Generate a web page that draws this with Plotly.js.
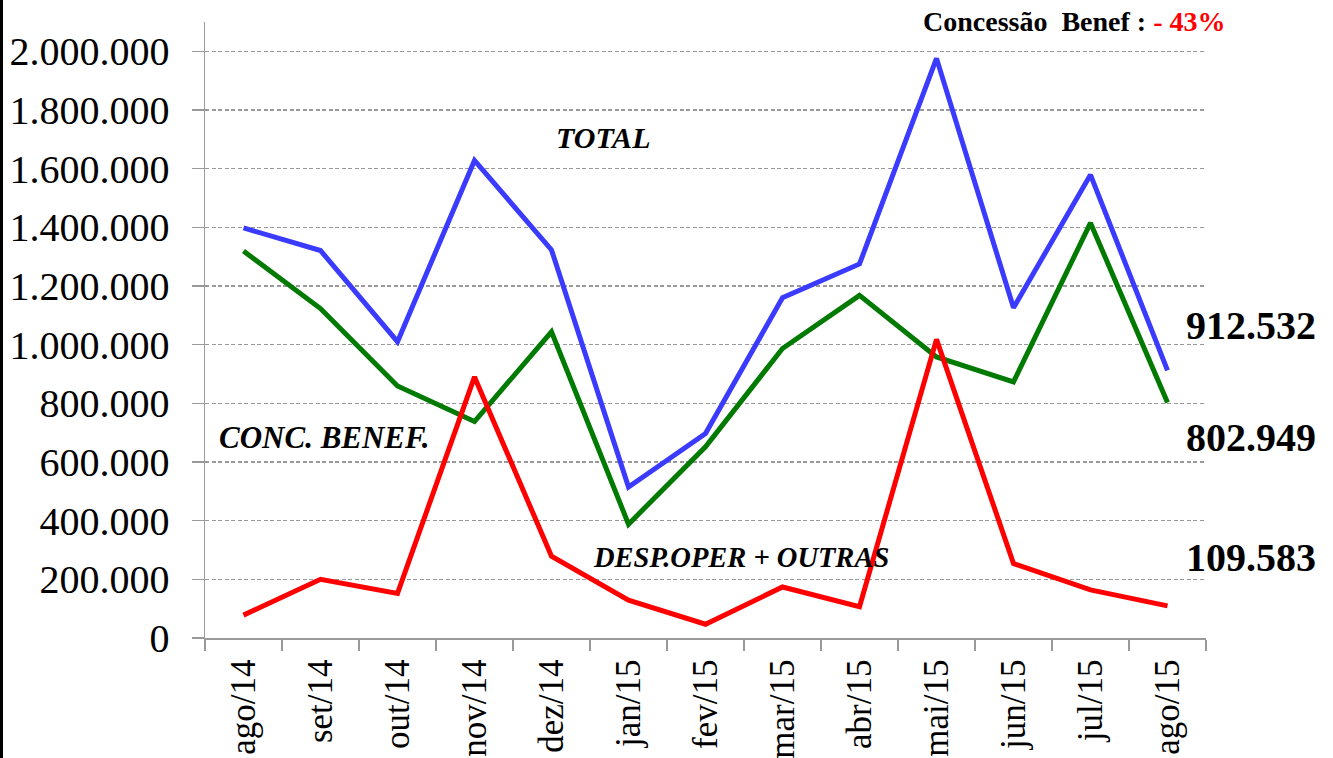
<!DOCTYPE html>
<html>
<head>
<meta charset="utf-8">
<script src="https://cdn.plot.ly/plotly-3.0.1.min.js"></script>
<style>
  html, body { margin: 0; padding: 0; background: #ffffff; }
  #chart { width: 1333px; height: 758px; }
</style>
</head>
<body>
<div id="chart"></div>
<script>
const months = ["ago/14","set/14","out/14","nov/14","dez/14","jan/15","fev/15","mar/15","abr/15","mai/15","jun/15","jul/15","ago/15"];
const total = [1398000, 1321000, 1010000, 1628000, 1323000, 515000, 697000, 1160000, 1275000, 1976000, 1126000, 1579000, 912532];
const concBenef = [1319000, 1123000, 859000, 738000, 1044000, 388000, 652000, 987000, 1168000, 958000, 873000, 1415000, 802949];
const despOper = [78000, 200000, 152000, 890000, 279000, 129000, 47000, 174000, 107000, 1018000, 254000, 164000, 109583];
const yTicks = [0, 200000, 400000, 600000, 800000, 1000000, 1200000, 1400000, 1600000, 1800000, 2000000];

const FONT = "'Liberation Serif', 'Times New Roman', serif";

function fmt(v) {
  return String(Math.round(v)).replace(/\B(?=(\d{3})+(?!\d))/g, ".");
}

const traces = [
  { x: months, y: total, type: "scatter", mode: "lines", name: "TOTAL",
    line: { color: "#3b3bff", width: 5 } },
  { x: months, y: concBenef, type: "scatter", mode: "lines", name: "CONC. BENEF.",
    line: { color: "#007a00", width: 5 } },
  { x: months, y: despOper, type: "scatter", mode: "lines", name: "DESP.OPER + OUTRAS",
    line: { color: "#ff0000", width: 5 } }
];

const last = months.length - 1;

const layout = {
  width: 1333, height: 758,
  margin: { l: 205, r: 127, t: 22, b: 120, pad: 0 },
  paper_bgcolor: "#ffffff", plot_bgcolor: "#ffffff",
  showlegend: false,
  font: { family: FONT, color: "#000000" },
  xaxis: {
    type: "category",
    range: [-0.5, months.length - 0.5],
    showline: true, linecolor: "#9a9a9a", linewidth: 1.5,
    ticks: "outside", tickson: "boundaries", ticklen: 11, tickcolor: "#9a9a9a", tickwidth: 1.5,
    tickangle: -90,
    tickfont: { family: FONT, size: 35, color: "#000000" },
    ticklabelstandoff: 6,
    showgrid: false, zeroline: false,
    automargin: false, fixedrange: true
  },
  yaxis: {
    range: [0, 2100000],
    tickmode: "array", tickvals: yTicks, ticktext: yTicks.map(fmt),
    showline: true, linecolor: "#9a9a9a", linewidth: 1.5,
    ticks: "outside", ticklen: 12, tickcolor: "#9a9a9a", tickwidth: 1.5,
    tickfont: { family: FONT, size: 40, color: "#000000" },
    ticklabelstandoff: 14,
    showgrid: true, gridcolor: "#999999", gridwidth: 1.2, griddash: "4px,2.5px",
    zeroline: false,
    automargin: false, fixedrange: true
  },
  annotations: [
    { xref: "paper", yref: "paper", x: 0.398, y: 0.813, xanchor: "center", yanchor: "middle",
      text: "<b><i>TOTAL</i></b>", showarrow: false, font: { family: FONT, size: 30, color: "#000" } },
    { xref: "paper", yref: "paper", x: 0.119, y: 0.326, xanchor: "center", yanchor: "middle",
      text: "<b><i>CONC. BENEF.</i></b>", showarrow: false, font: { family: FONT, size: 31, color: "#000" } },
    { xref: "paper", yref: "paper", x: 0.535, y: 0.130, xanchor: "center", yanchor: "middle",
      text: "<b><i>DESP.OPER + OUTRAS</i></b>", showarrow: false, font: { family: FONT, size: 28.5, color: "#000" } },
    { xref: "paper", yref: "paper", x: 1.045, y: 0.507, xanchor: "center", yanchor: "middle",
      text: "<b>" + fmt(total[last]) + "</b>", showarrow: false, font: { family: FONT, size: 40, color: "#000" } },
    { xref: "paper", yref: "paper", x: 1.045, y: 0.325, xanchor: "center", yanchor: "middle",
      text: "<b>" + fmt(concBenef[last]) + "</b>", showarrow: false, font: { family: FONT, size: 40, color: "#000" } },
    { xref: "paper", yref: "paper", x: 1.045, y: 0.131, xanchor: "center", yanchor: "middle",
      text: "<b>" + fmt(despOper[last]) + "</b>", showarrow: false, font: { family: FONT, size: 40, color: "#000" } },
    { xref: "paper", yref: "paper", x: 0.869, y: 1.0016, xanchor: "center", yanchor: "middle",
      text: "<b>Concessão&nbsp; Benef : <span style='color:#ff0000'>- 43%</span></b>", showarrow: false,
      font: { family: FONT, size: 28, color: "#000" } }
  ],
  shapes: [
    { type: "rect", xref: "paper", yref: "paper",
      x0: -205/1001, x1: -202/1001, y0: -120/616, y1: 1 + 22/616,
      fillcolor: "#000000", line: { width: 0 } }
  ]
};

Plotly.newPlot("chart", traces, layout, { staticPlot: true, displayModeBar: false });
</script>
</body>
</html>
